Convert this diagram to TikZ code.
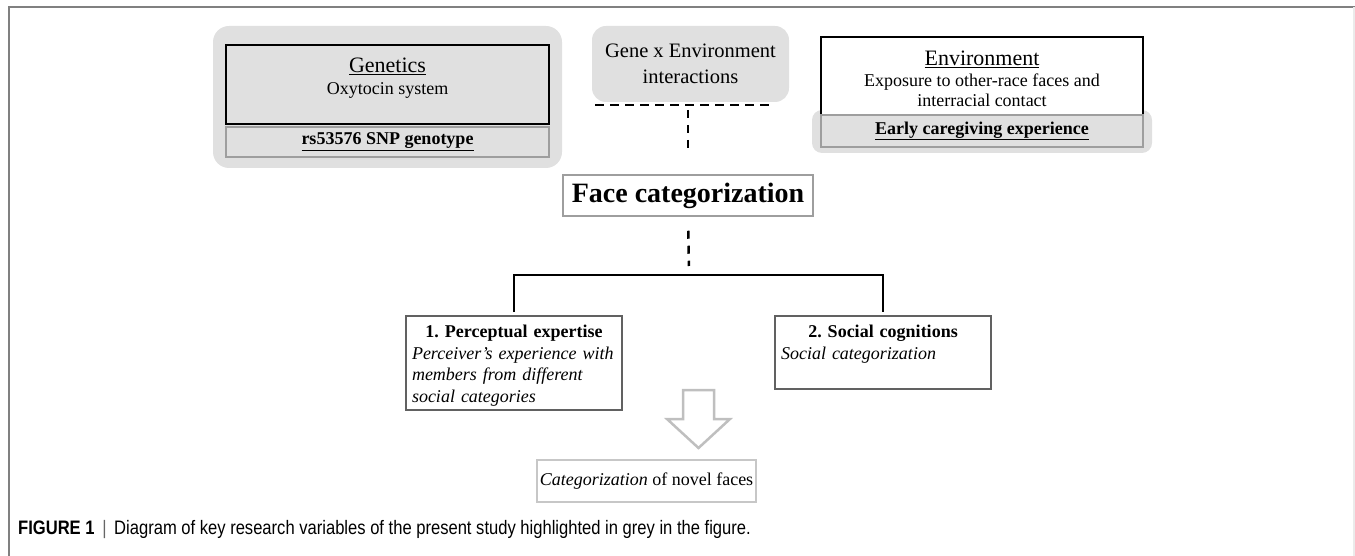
\documentclass[tikz,border=0pt]{standalone}
\usepackage{fontspec}
\setmainfont{Liberation Serif}
\newfontfamily\capfont{Liberation Sans}
\usepackage{tikz}
\usetikzlibrary{positioning,backgrounds}
\newcommand{\panelgrey}{black!12}
\newcommand{\edgegrey}{black!38}
\newcommand{\boxline}{2.5pt}
\newcommand{\fs}[2]{\fontsize{#1}{#2}\selectfont}

\begin{document}
\begin{tikzpicture}[x=1pt,y=-1pt,
  font=\fs{18}{21.5},
  panel/.style={fill=\panelgrey, rounded corners=16pt, inner sep=0pt},
  blackbox/.style={draw=black, line width=\boxline, inner sep=0pt},
  subbox/.style={draw=\edgegrey, line width=2pt, fill=\panelgrey, inner sep=0pt},
  itembox/.style={draw=black!62, line width=2pt, minimum width=216, inner sep=0pt},
  itemtext/.style={anchor=north, text width=204, align=left, inner sep=0pt},
  dashline/.style={line width=\boxline, dash pattern=on 9pt off 6pt},
  vdash/.style={line width=\boxline, dash pattern=on 8pt off 7pt},
  bracket/.style={line width=\boxline}]
\useasboundingbox (0,0) rectangle (1355,556);
%frame
\draw[black!50, line width=1.5pt] (1355,7) -- (9,7) -- (9,556);
\draw[black!8, line width=1.5pt] (1354,7) -- (1354,556);
%genetics
\node[panel, minimum width=349, minimum height=142] (genpanel) at (387.5,97) {};
\node[blackbox, fill=\panelgrey, minimum width=323, minimum height=79] (genbox) at (387.5,84.5) {};
\node[align=center] (gentext) at (387.5,78) {{\fs{22}{24}\underline{Genetics}}\\[1pt]Oxytocin system};
\node[subbox, minimum width=323, minimum height=30] (snpbox) at (387.5,142) {\bfseries\underline{rs53576 SNP genotype}};
%gene x environment
\node[panel, rounded corners=14pt, minimum width=197, minimum height=76, align=center, font=\fs{20.5}{26}] (gxe) at (690.5,64) {Gene x Environment\\interactions};
\coordinate (gxeleft) at (595,105);
\coordinate (gxeright) at (772,105);
\draw[dashline] (gxeleft) -- (gxeright);
%environment
\node[panel, rounded corners=10pt, minimum width=340, minimum height=43] (envpanel) at (982,131.5) {};
\node[blackbox, fill=white, minimum width=322, minimum height=78, align=center, font=\fs{18}{20}] (envbox) at (982,76) {};
\node[align=center, font=\fs{18}{20}] (envtext) at (982,79) {{\fs{22}{24}\underline{Environment}}\\[1pt]Exposure to other-race faces and\\interracial contact};
\node[subbox, minimum width=322, minimum height=32] (carebox) at (982,131) {\bfseries\underline{Early caregiving experience}};
%face categorization
\node[draw=\edgegrey, line width=1.5pt, minimum width=250, minimum height=41, inner sep=0pt, font=\fs{28}{30}\bfseries] (face) at (688,195.5) {Face categorization};
\draw[vdash, shorten <=5pt, shorten >=20pt] (gxeleft -| face.north) -- (face.north);
%two routes
\node[itembox, minimum height=94] (expertise) at (514,363) {};
\node[itembox, minimum height=73] (cognitions) at (883,352.5) {};
\node[itemtext] (expertisetext) at ([yshift=-10pt]expertise.north) {\makebox[204pt][c]{\bfseries 1.\ Perceptual expertise}\\\textit{Perceiver's experience with}\\\textit{members from different}\\\textit{social categories}};
\node[itemtext] (cognitionstext) at ([yshift=-10pt]cognitions.north) {\makebox[204pt][c]{\bfseries 2.\ Social cognitions}\\\textit{Social categorization}};
\coordinate (fork) at (689,275);
\draw[vdash, shorten <=14pt, shorten >=9pt] (face.south) -- (fork);
\draw[bracket, shorten <=3pt, shorten >=3pt] (expertise.north) |- (fork) -| (cognitions.north);
%outcome
\draw[black!25, line width=2.5pt, fill=white] (683,390) -- (683,419) -- (667,419) -- (698.5,448) -- (730,419) -- (714,419) -- (714,390) -- cycle;
\node[draw=black!22, line width=2pt, minimum width=219, minimum height=42, inner sep=0pt] (novel) at (646.5,481) {\textit{Categorization} of novel faces};
%caption
\node[anchor=base west, inner sep=0pt, font=\capfont\fs{19.5}{22}, xscale=.85, transform shape] (caption) at (18,534) {\textbf{FIGURE 1}\hspace{9pt}{\color{black!60}|}\hspace{9pt}Diagram of key research variables of the present study highlighted in grey in the figure.};
\end{tikzpicture}
\end{document}
